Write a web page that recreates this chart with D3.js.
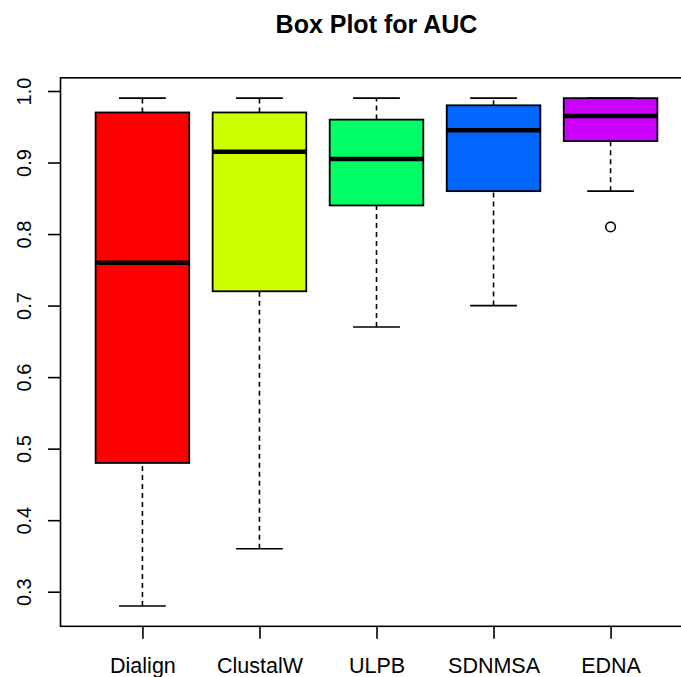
<!DOCTYPE html>
<html>
<head>
<meta charset="utf-8">
<script src="https://cdn.jsdelivr.net/npm/d3@7"></script>
<style>
  body { margin: 0; background: #fff; }
  svg { display: block; font-family: "Liberation Sans", Arial, Helvetica, sans-serif; }
</style>
</head>
<body>
<script>

// values
var methods = ["Dialign", "ClustalW", "ULPB", "SDNMSA", "EDNA"];
var lowWhisker = [0.28, 0.36, 0.67, 0.70, 0.86];
var q1 = [0.48, 0.72, 0.84, 0.86, 0.93];
var medians = [0.76, 0.915, 0.905, 0.945, 0.965];
var q3 = [0.97, 0.97, 0.96, 0.98, 0.99];
var highWhisker = [0.99, 0.99, 0.99, 0.99, 0.99];
var outliers = [[], [], [], [], [0.81]];
var colors = ["#FF0000", "#CCFF00", "#00FF66", "#0066FF", "#CC00FF"];
var yTicks = [0.3, 0.4, 0.5, 0.6, 0.7, 0.8, 0.9, 1.0];

var width = 681, height = 677;

var svg = d3.select("body").append("svg")
    .attr("width", width)
    .attr("height", height);

var x = d3.scaleLinear()
    .domain([0.3, 5.7])
    .range([60.5, 692.5]);

var y = d3.scaleLinear()
    .domain([0.3, 1.0])
    .range([591.7, 91]);

var yTop = y(1.0184), yBottom = y(0.2516);
var boxW = (x(2) - x(1)) * 0.8;

// title
svg.append("text")
    .attr("x", (x(0.3) + x(5.7)) / 2)
    .attr("y", 33)
    .attr("text-anchor", "middle")
    .style("font-weight", "bold")
    .style("font-size", "25px")
    .text("Box Plot for AUC");

// boxes
var data = methods.map(function(m, i) {
  return { name: m, pos: i + 1, lo: lowWhisker[i], q1: q1[i], med: medians[i],
           q3: q3[i], hi: highWhisker[i], out: outliers[i], color: colors[i] };
});

var g = svg.append("g");

var box = g.selectAll("g.box").data(data).enter().append("g").attr("class", "box");

// dashed whiskers
box.append("line")
    .attr("x1", function(d) { return x(d.pos); })
    .attr("x2", function(d) { return x(d.pos); })
    .attr("y1", function(d) { return y(d.lo); })
    .attr("y2", function(d) { return y(d.q1); })
    .attr("stroke", "#000").attr("stroke-width", 1.6)
    .attr("stroke-dasharray", "5,4");
box.append("line")
    .attr("x1", function(d) { return x(d.pos); })
    .attr("x2", function(d) { return x(d.pos); })
    .attr("y1", function(d) { return y(d.q3); })
    .attr("y2", function(d) { return y(d.hi); })
    .attr("stroke", "#000").attr("stroke-width", 1.6)
    .attr("stroke-dasharray", "5,4");

// staples
["lo", "hi"].forEach(function(k) {
  box.append("line")
      .attr("x1", function(d) { return x(d.pos) - boxW / 4; })
      .attr("x2", function(d) { return x(d.pos) + boxW / 4; })
      .attr("y1", function(d) { return y(d[k]); })
      .attr("y2", function(d) { return y(d[k]); })
      .attr("stroke", "#000").attr("stroke-width", 1.6);
});

box.append("rect")
    .attr("x", function(d) { return x(d.pos) - boxW / 2; })
    .attr("width", boxW)
    .attr("y", function(d) { return y(d.q3); })
    .attr("height", function(d) { return y(d.q1) - y(d.q3); })
    .attr("fill", function(d) { return d.color; })
    .attr("stroke", "#000").attr("stroke-width", 1.8);

box.append("line")
    .attr("x1", function(d) { return x(d.pos) - boxW / 2; })
    .attr("x2", function(d) { return x(d.pos) + boxW / 2; })
    .attr("y1", function(d) { return y(d.med); })
    .attr("y2", function(d) { return y(d.med); })
    .attr("stroke", "#000").attr("stroke-width", 4.5);

box.selectAll("circle").data(function(d) { return d.out.map(function(v) { return { pos: d.pos, v: v }; }); })
  .enter().append("circle")
    .attr("cx", function(d) { return x(d.pos); })
    .attr("cy", function(d) { return y(d.v); })
    .attr("r", 4.8)
    .attr("fill", "none")
    .attr("stroke", "#000").attr("stroke-width", 1.6);

// plot frame
svg.append("rect")
    .attr("x", x(0.3))
    .attr("y", yTop)
    .attr("width", x(5.7) - x(0.3))
    .attr("height", yBottom - yTop)
    .attr("fill", "none")
    .attr("stroke", "#000").attr("stroke-width", 1.6);

// y axis
var yAxis = d3.axisLeft(y).tickValues(yTicks).tickSize(12.5).tickFormat(d3.format(".1f"));
var ya = svg.append("g")
    .attr("transform", "translate(" + x(0.3) + ",0)")
    .call(yAxis);
ya.select(".domain").remove();
ya.selectAll(".tick line").attr("stroke-width", 1.6);
ya.selectAll(".tick text")
    .attr("x", 0).attr("y", 0).attr("dy", null)
    .attr("transform", "translate(-29.5,0) rotate(-90)")
    .attr("text-anchor", "middle")
    .style("font-size", "20px")
    .style("font-family", "'Liberation Sans', Arial, sans-serif")
    .attr("fill", "#000");

// x axis
var xAxis = d3.axisBottom(x).tickValues([1, 2, 3, 4, 5]).tickSize(12.5)
    .tickFormat(function(d) { return methods[d - 1]; });
var xa = svg.append("g")
    .attr("transform", "translate(0," + yBottom + ")")
    .call(xAxis);
xa.select(".domain").remove();
xa.selectAll(".tick line").attr("stroke-width", 1.6);
xa.selectAll(".tick text")
    .attr("y", 46.4).attr("dy", null)
    .style("font-size", "21.5px")
    .style("font-family", "'Liberation Sans', Arial, sans-serif")
    .attr("fill", "#000");

</script>
</body>
</html>
